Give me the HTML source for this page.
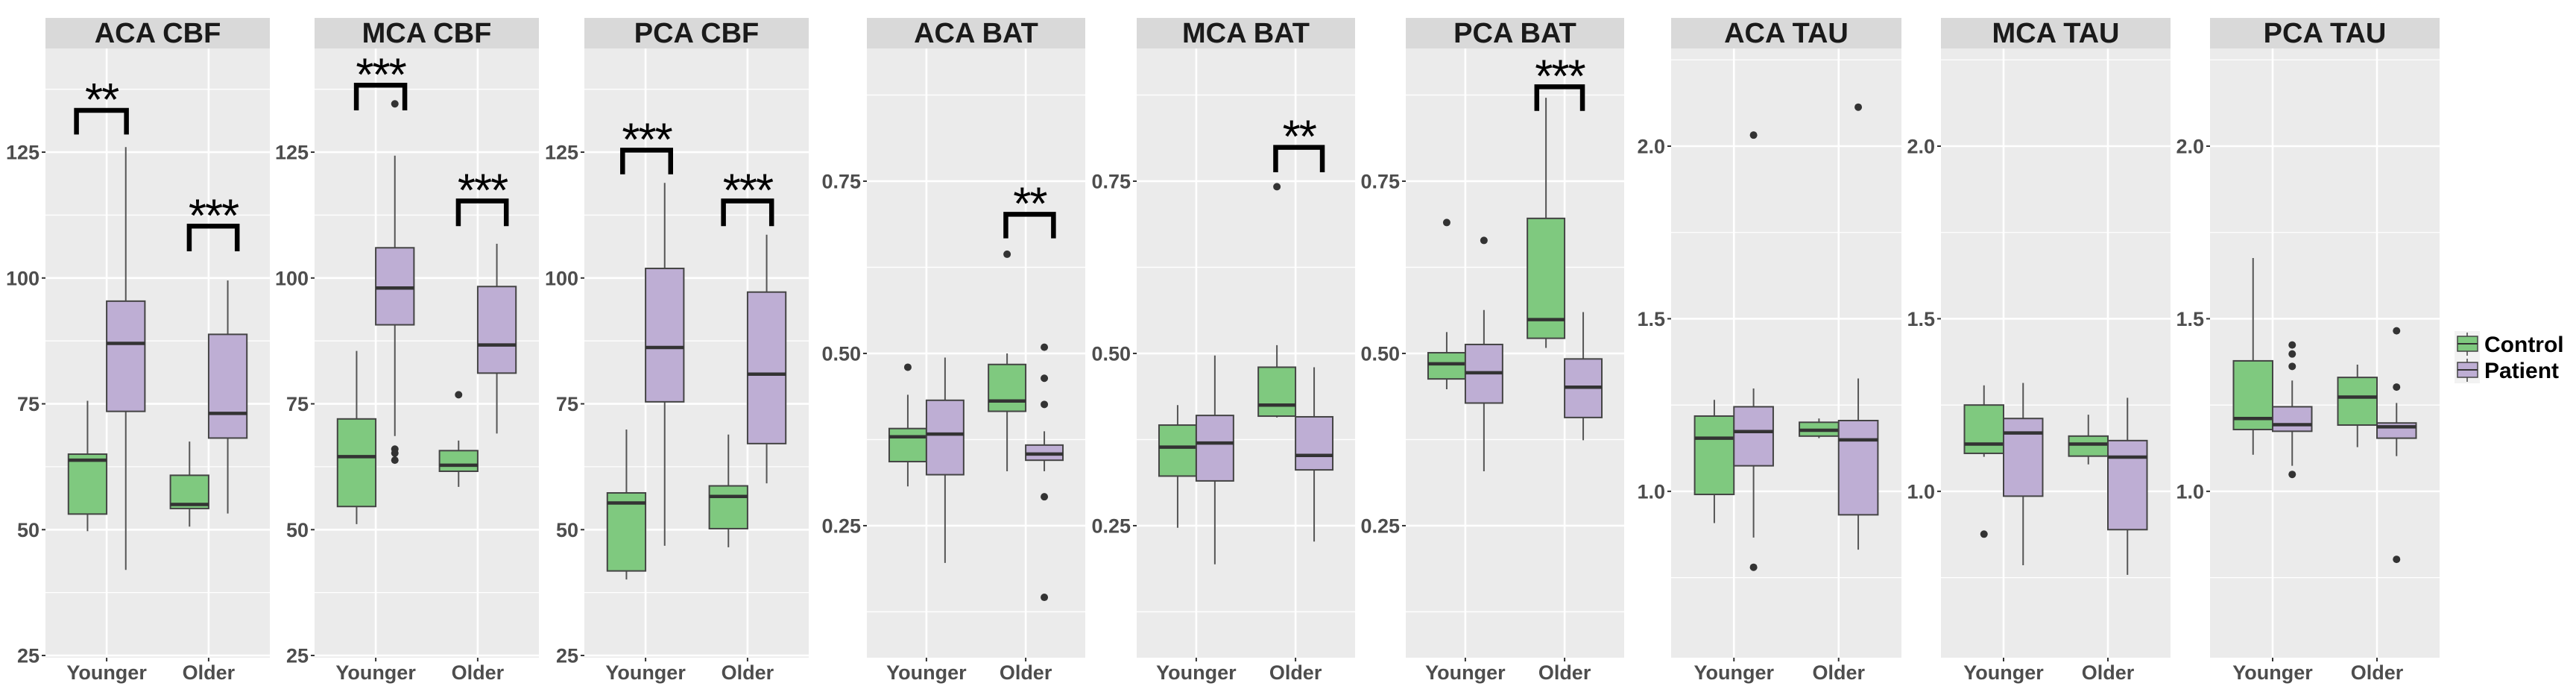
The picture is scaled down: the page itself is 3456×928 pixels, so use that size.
<!DOCTYPE html>
<html><head><meta charset="utf-8">
<style>
html,body{margin:0;padding:0;background:#fff;}
svg{display:block;font-family:"Liberation Sans",Arial,sans-serif;}
</style></head>
<body>
<svg id="chart" width="3456" height="928" viewBox="0 0 3456 928" xmlns="http://www.w3.org/2000/svg"></svg>
<script>
// ---------- data ----------
const categories = ["Younger", "Older"];
const groups = ["Control", "Patient"];
const panelTitles = ["ACA CBF","MCA CBF","PCA CBF","ACA BAT","MCA BAT","PCA BAT","ACA TAU","MCA TAU","PCA TAU"];
// stats per box: [low whisker, Q1, median, Q3, high whisker]; order: Control-Younger, Patient-Younger, Control-Older, Patient-Older
const acaCbfStats = [[49.7,53.1,63.8,65,75.6],[42,73.5,87,95.4,126],[50.6,54.2,55,60.8,67.5],[53.2,68.2,73.1,88.8,99.5]];
const mcaCbfStats = [[51.1,54.6,64.5,72,85.5],[68.6,90.7,98,106,124.3],[58.5,61.6,62.8,65.7,67.7],[69.1,81.1,86.7,98.3,106.8]];
const pcaCbfStats = [[40.1,41.8,55.3,57.3,69.9],[46.8,75.4,86.2,101.9,118.9],[46.5,50.2,56.6,58.7,68.9],[59.2,67.1,80.9,97.2,108.6]];
const acaBatStats = [[0.307,0.343,0.379,0.391,0.440],[0.196,0.324,0.383,0.432,0.494],[0.329,0.416,0.431,0.484,0.500],[0.329,0.345,0.354,0.367,0.387]];
const mcaBatStats = [[0.247,0.322,0.364,0.396,0.425],[0.194,0.315,0.370,0.410,0.497],[0.407,0.409,0.425,0.480,0.512],[0.227,0.331,0.352,0.408,0.480]];
const pcaBatStats = [[0.448,0.463,0.485,0.501,0.531],[0.329,0.428,0.472,0.513,0.563],[0.508,0.522,0.549,0.696,0.871],[0.374,0.407,0.451,0.492,0.560]];
const acaTauStats = [[0.908,0.991,1.154,1.218,1.265],[0.866,1.074,1.173,1.245,1.298],[1.154,1.160,1.177,1.200,1.211],[0.831,0.932,1.149,1.205,1.327]];
const mcaTauStats = [[1.100,1.110,1.137,1.250,1.307],[0.786,0.986,1.169,1.211,1.314],[1.078,1.102,1.137,1.160,1.222],[0.758,0.889,1.099,1.147,1.271]];
const pcaTauStats = [[1.106,1.179,1.211,1.378,1.676],[1.074,1.174,1.193,1.245,1.321],[1.128,1.192,1.273,1.330,1.367],[1.102,1.154,1.187,1.198,1.256]];
// outliers per box
const acaCbfOutliers = [[],[],[],[]];
const mcaCbfOutliers = [[],[66,65.2,63.8,134.6],[76.8],[]];
const pcaCbfOutliers = [[],[],[],[]];
const acaBatOutliers = [[0.480],[],[0.644],[0.509,0.464,0.426,0.292,0.146]];
const mcaBatOutliers = [[],[],[0.742],[]];
const pcaBatOutliers = [[0.690],[0.664],[],[]];
const acaTauOutliers = [[],[2.032,0.780],[],[2.113]];
const mcaTauOutliers = [[0.876],[],[],[]];
const pcaTauOutliers = [[],[1.424,1.398,1.362,1.049],[],[1.465,1.302,0.803]];
// significance brackets: [panel index, category index, top value, leg bottom value, left offset, right offset, label]
const bracketPanel = [0,0,1,1,2,2,3,4,5];
const bracketCat   = [0,1,0,1,0,1,1,1,1];
const bracketTop   = [133.3,110.3,138.3,115.3,125.4,115.3,0.702,0.799,0.887];
const bracketLeg   = [128.5,105.3,133.3,110.3,120.6,110.3,0.667,0.763,0.852];
const bracketLeft  = [-0.296,-0.19,-0.19,-0.19,-0.225,-0.236,-0.2,-0.2,-0.28];
const bracketRight = [0.194,0.28,0.285,0.28,0.246,0.236,0.28,0.27,0.18];
const bracketLabels = ["**","***","***","***","***","***","**","**","***"];
// axis ticks
const cbfTicks = [25,50,75,100,125];
const cbfTickLabels = ["25","50","75","100","125"];
const batTicks = [0.25,0.50,0.75];
const batTickLabels = ["0.25","0.50","0.75"];
const tauTicks = [1.0,1.5,2.0];
const tauTickLabels = ["1.0","1.5","2.0"];
const cbfMinor = [37.5,62.5,87.5,112.5,137.5];
const batMinor = [0.125,0.375,0.625,0.875];
const tauMinor = [0.75,1.25,1.75,2.25];

// ---------- layout ----------
const NS = "http://www.w3.org/2000/svg";
const svg = document.getElementById("chart");
const panelLeft = [61,422,784,1163,1525,1886,2242,2604,2965];
const panelWidth = [301,301,301,293,293,293,309,308,308];
const panelTop = 65, panelBottom = 882, stripTop = 24;
const statsList = [acaCbfStats,mcaCbfStats,pcaCbfStats,acaBatStats,mcaBatStats,pcaBatStats,acaTauStats,mcaTauStats,pcaTauStats];
const outList = [acaCbfOutliers,mcaCbfOutliers,pcaCbfOutliers,acaBatOutliers,mcaBatOutliers,pcaBatOutliers,acaTauOutliers,mcaTauOutliers,pcaTauOutliers];
const axes = [
  {min:24.56,max:145.6,ticks:cbfTicks,labels:cbfTickLabels,minor:cbfMinor},
  {min:0.0584,max:0.9426,ticks:batTicks,labels:batTickLabels,minor:batMinor},
  {min:0.518,max:2.283,ticks:tauTicks,labels:tauTickLabels,minor:tauMinor}
];
const fills = ["#7fc97f","#beaed4"];

function el(tag, attrs, parent){
  const e = document.createElementNS(NS, tag);
  for (const k in attrs) e.setAttribute(k, attrs[k]);
  (parent||svg).appendChild(e);
  return e;
}
function yScale(ax, v){ return panelBottom - (v-ax.min)/(ax.max-ax.min)*(panelBottom-panelTop); }
function xScale(p, c){ return panelLeft[p] + (c+0.6)/2.2*panelWidth[p]; }
function unit(p){ return panelWidth[p]/2.2; }

for (let p=0;p<9;p++){
  const ax = axes[Math.floor(p/3)];
  const L = panelLeft[p], W = panelWidth[p];
  const g = el("g",{});
  
  
  // strip
  const strip = el("rect",{x:L,y:stripTop,width:W,height:panelTop-stripTop,fill:"#d9d9d9"},g);
  
  
  const st = el("text",{x:L+W/2,y:stripTop+33,"text-anchor":"middle","font-size":"38","font-weight":"bold",fill:"#1a1a1a"},g);
  st.textContent = panelTitles[p];
  
  
  // background
  const bg = el("rect",{x:L,y:panelTop,width:W,height:panelBottom-panelTop,fill:"#ebebeb"},g);
  
  
  ax.minor.forEach(v=>{
    const yy=yScale(ax,v);
    if (yy<panelTop||yy>panelBottom) return;
    const ln = el("line",{x1:L,x2:L+W,y1:yy,y2:yy,stroke:"#fff","stroke-width":1.3},g);
    
    
  });
  ax.ticks.forEach((v,i)=>{
    const yy=yScale(ax,v);
    const ln = el("line",{x1:L,x2:L+W,y1:yy,y2:yy,stroke:"#fff","stroke-width":2.6},g);
    
    
    const tk = el("line",{x1:L-5,x2:L,y1:yy,y2:yy,stroke:"#333","stroke-width":2},g);
    
    
    const t = el("text",{x:L-8,y:yy+9.5,"text-anchor":"end","font-size":"27","font-weight":"bold",fill:"#4d4d4d"},g);
    t.textContent = ax.labels[i];
    
    
  });
  categories.forEach((c,ci)=>{
    const xx=xScale(p,ci);
    const ln = el("line",{x1:xx,x2:xx,y1:panelTop,y2:panelBottom,stroke:"#fff","stroke-width":2.6},g);
    
    
    const tk = el("line",{x1:xx,x2:xx,y1:panelBottom,y2:panelBottom+5,stroke:"#333","stroke-width":2},g);
    
    
    const t = el("text",{x:xx,y:panelBottom+29,"text-anchor":"middle","font-size":"27","font-weight":"bold",fill:"#4d4d4d"},g);
    t.textContent = c;
    
    
  });
  // boxes
  const stats = statsList[p], outs = outList[p];
  const bw = 0.375*unit(p);
  for (let b=0;b<4;b++){
    const ci = Math.floor(b/2), gi = b%2;
    const cx = xScale(p,ci) + (gi===0?-0.1875:0.1875)*unit(p);
    const s = stats[b];
    const bg2 = el("g",{},g);
    
    
    const w1 = el("line",{x1:cx,x2:cx,y1:yScale(ax,s[4]),y2:yScale(ax,s[3]),stroke:"#555","stroke-width":2},bg2);
    
    
    const w2 = el("line",{x1:cx,x2:cx,y1:yScale(ax,s[1]),y2:yScale(ax,s[0]),stroke:"#555","stroke-width":2},bg2);
    
    
    const r = el("rect",{x:cx-bw/2,y:yScale(ax,s[3]),width:bw,height:yScale(ax,s[1])-yScale(ax,s[3]),fill:fills[gi],stroke:"#444","stroke-width":2},bg2);
    
    
    const m = el("line",{x1:cx-bw/2,x2:cx+bw/2,y1:yScale(ax,s[2]),y2:yScale(ax,s[2]),stroke:"#333","stroke-width":4.5},bg2);
    
    
    outs[b].forEach(v=>{
      const o = el("circle",{cx:cx,cy:yScale(ax,v),r:5,fill:"#333"},bg2);
      
      
    });
  }
}
// brackets
for (let i=0;i<bracketPanel.length;i++){
  const p = bracketPanel[i], ax = axes[Math.floor(p/3)];
  const cx = xScale(p,bracketCat[i]);
  const x1 = cx + bracketLeft[i]*unit(p), x2 = cx + bracketRight[i]*unit(p);
  const yt = yScale(ax,bracketTop[i]), yl = yScale(ax,bracketLeg[i]);
  const bk = el("path",{d:`M${x1},${yl} L${x1},${yt} L${x2},${yt} L${x2},${yl}`,fill:"none",stroke:"#000","stroke-width":6.5});
  
  
  const t = el("text",{x:(x1+x2)/2,y:yt+7,"text-anchor":"middle","font-size":"62",fill:"#000","letter-spacing":"-2"});
  t.textContent = bracketLabels[i];
  
  
}
// legend
const legend = el("g",{});


groups.forEach((gname,gi)=>{
  const ky = 444 + gi*35;
  const kg = el("g",{},legend);
  
  
  el("rect",{x:3293,y:ky,width:34,height:35,fill:"#f2f2f2"},kg);
  el("line",{x1:3310,x2:3310,y1:ky+2,y2:ky+33,stroke:"#444","stroke-width":1.5},kg);
  el("rect",{x:3297,y:ky+7,width:27,height:20,fill:fills[gi],stroke:"#444","stroke-width":1.5},kg);
  el("line",{x1:3297,x2:3324,y1:ky+17,y2:ky+17,stroke:"#333","stroke-width":2},kg);
  const t = el("text",{x:3333,y:ky+28,"font-size":"30","font-weight":"bold",fill:"#000"},kg);
  t.textContent = gname;
  
  
});
</script>
</body></html>
